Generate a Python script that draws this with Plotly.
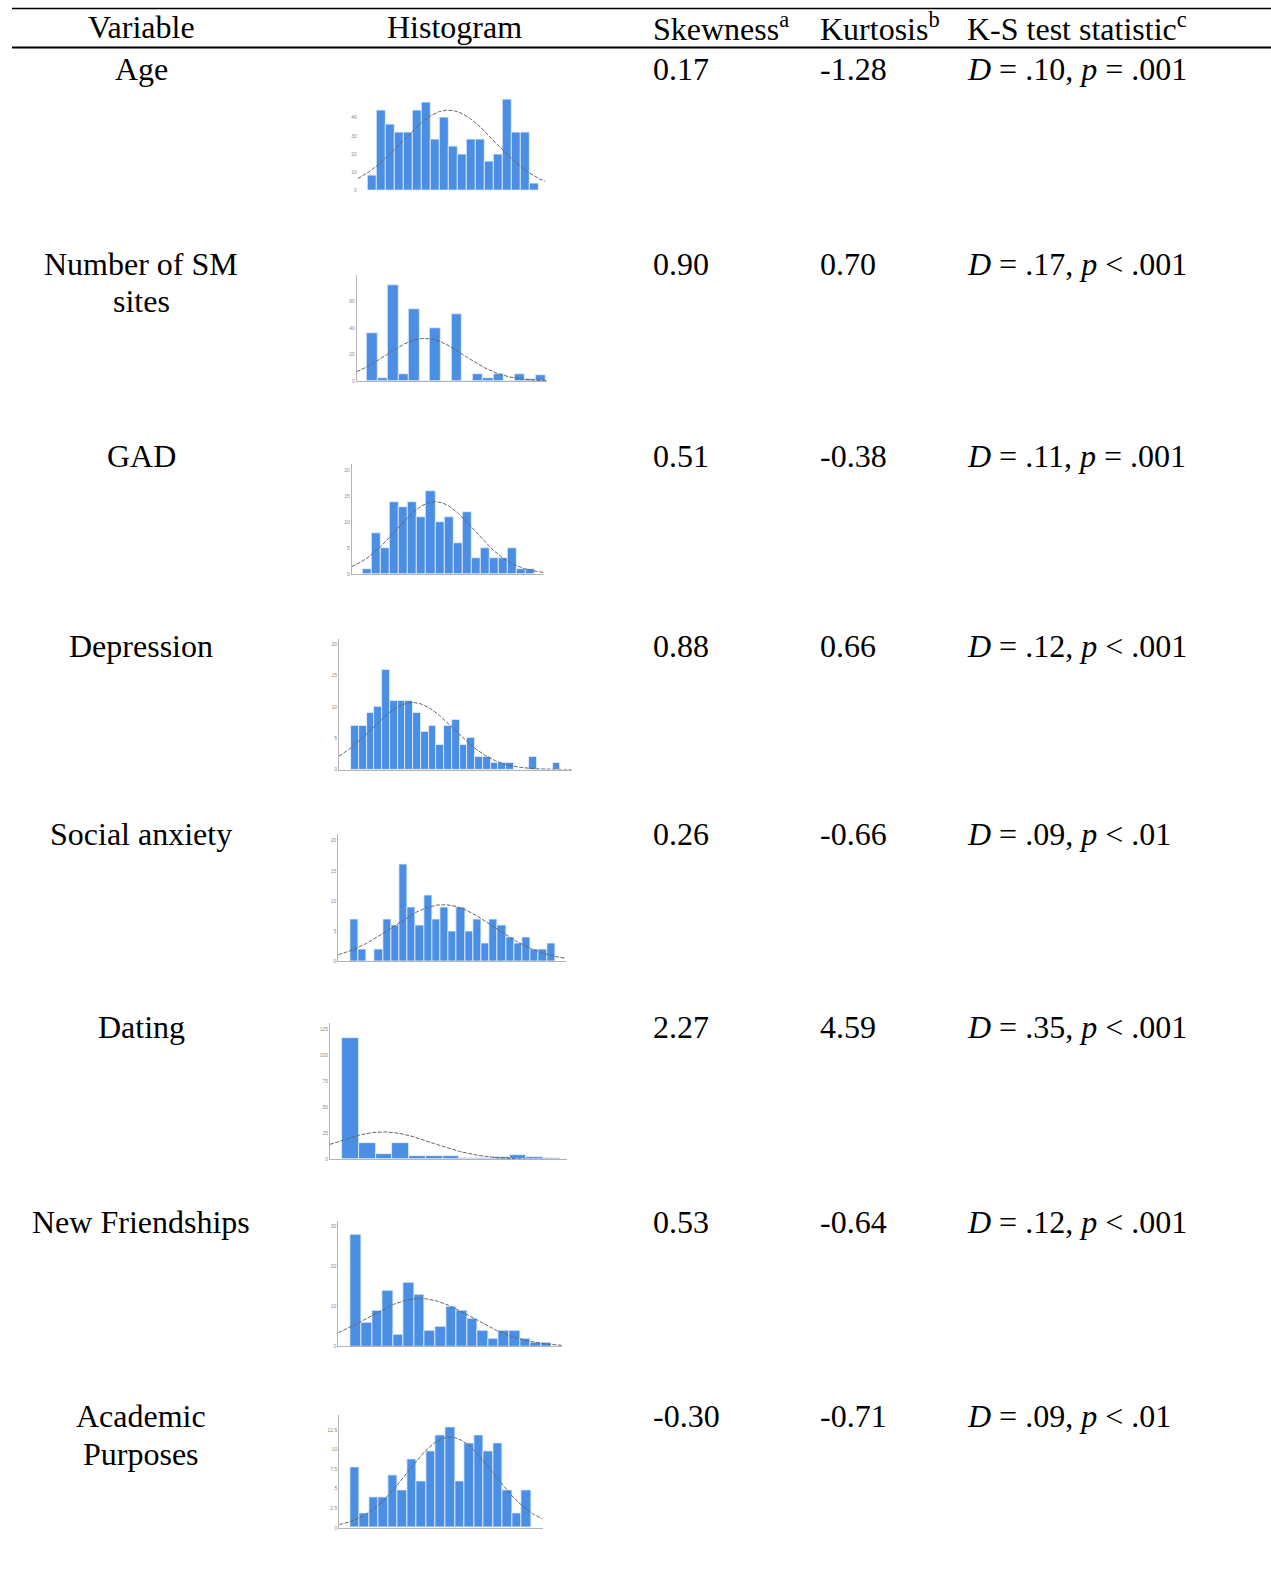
import numpy as np
import plotly.graph_objects as go

W, H = 1271, 1583
FONT = "Liberation Serif"

# ---- table text ----
variables = ["Age", "Number of SM<br>sites", "GAD", "Depression", "Social anxiety",
             "Dating", "New Friendships", "Academic<br>Purposes"]
skewness = ["0.17", "0.90", "0.51", "0.88", "0.26", "2.27", "0.53", "-0.30"]
kurtosis = ["-1.28", "0.70", "-0.38", "0.66", "-0.66", "4.59", "-0.64", "-0.71"]
ks_D = [".10", ".17", ".11", ".12", ".09", ".35", ".12", ".09"]
ks_p = ["= .001", "< .001", "= .001", "< .001", "< .01", "< .001", "< .001", "< .01"]

# ---- histogram bin counts ----
age_counts = [8, 44, 36, 32, 32, 44, 48, 28, 40, 24, 20, 28, 28, 16, 20, 52, 32, 32, 4]
sm_counts = [36, 2, 72, 5, 54, 0, 40, 0, 50, 0, 5, 2, 5, 0, 5, 1, 4]
gad_counts = [1, 8, 5, 14, 13, 14, 11, 16, 10, 11, 6, 12, 3, 5, 3, 3, 5, 1, 1]
dep_counts = [7, 7, 9, 10, 16, 11, 11, 11, 9, 6, 7, 4, 7, 8, 4, 5, 2, 2, 1, 1, 1, 0, 0, 2, 0, 0, 1]
soc_counts = [7, 2, 0, 2, 7, 6, 16, 9, 6, 11, 7, 9, 5, 9, 5, 7, 3, 7, 6, 4, 3, 4, 2, 2, 3]
dating_counts = [117, 16, 5, 16, 3.5, 3.5, 3.5, 1, 1, 2, 4, 2, 1]
nf_counts = [28, 6, 9, 14, 3, 16, 13, 4, 5, 10, 9, 7, 4, 2, 4, 4, 2, 1, 1]
acad_counts = [7.75, 1.8, 3.85, 3.85, 6.7, 4.85, 8.75, 5.9, 9.8, 11.85, 12.8, 5.9, 10.8,
               11.85, 9.8, 10.8, 4.85, 1.8, 4.85]

all_counts = [age_counts, sm_counts, gad_counts, dep_counts, soc_counts,
              dating_counts, nf_counts, acad_counts]

# ---- fitted normal curves (bin-index units) ----
curve_mean = [8.47, 5.0, 7.48, 7.45, 10.88, 1.95, 6.06, 9.99]
curve_sd = [5.15, 3.7, 4.3, 5.3, 6.2, 2.9, 4.9, 4.5]
curve_peak = [44, 32, 14, 10.7, 9.4, 26.6, 12, 11.6]

# ---- y-axis tick values ----
y_ticks = [[0, 10, 20, 30, 40, 50], [0, 20, 40, 60, 80], [0, 5, 10, 15, 20],
           [0, 5, 10, 15, 20], [0, 5, 10, 15, 20], [0, 25, 50, 75, 100, 125],
           [0, 10, 20, 30], [0, 2.5, 5, 7.5, 10, 12.5]]

# panel geometry in page pixels: bin left edge, bin width, baseline,
# pixels per count, plot left/right, axis top
geom = [
    dict(bl=367.3, bw=9.03, base=191.0, cpx=1.833, x0=357.7, x1=545.0, top=99.7, axis=False),
    dict(bl=367.0, bw=10.53, base=381.7, cpx=1.333, x0=356.7, x1=547.0, top=275.7, axis=True),
    dict(bl=362.7, bw=9.07, base=575.0, cpx=5.17, x0=351.7, x1=543.0, top=465.0, axis=True),
    dict(bl=351.0, bw=7.75, base=771.0, cpx=6.27, x0=339.0, x1=571.7, top=640.0, axis=True),
    dict(bl=350.0, bw=8.2, base=963.3, cpx=6.05, x0=338.3, x1=566.0, top=836.0, axis=True),
    dict(bl=342.3, bw=16.73, base=1161.7, cpx=1.04, x0=330.0, x1=566.7, top=1025.0, axis=True),
    dict(bl=350.7, bw=10.57, base=1349.0, cpx=4.0, x0=338.3, x1=561.7, top=1223.0, axis=True),
    dict(bl=350.0, bw=9.53, base=1530.7, cpx=7.83, x0=339.3, x1=542.7, top=1418.0, axis=True),
]

fig = go.Figure()
layout_axes = {}

for k, (counts, g) in enumerate(zip(all_counts, geom)):
    n = k + 1
    xa = "x" if n == 1 else f"x{n}"
    ya = "y" if n == 1 else f"y{n}"
    idx = np.arange(len(counts))
    xr = [(g["x0"] - g["bl"]) / g["bw"] - 0.5, (g["x1"] - g["bl"]) / g["bw"] - 0.5]
    yr = [0, (g["base"] - g["top"]) / g["cpx"]]

    fig.add_trace(go.Bar(
        x=idx, y=counts, width=1.0, xaxis=xa, yaxis=ya,
        marker=dict(color="#4b8fe4", line=dict(color="#e8f0fb", width=0.8)),
        showlegend=False, hoverinfo="skip"))

    xs = np.linspace(xr[0], xr[1], 200)
    ys = curve_peak[k] * np.exp(-0.5 * ((xs - curve_mean[k]) / curve_sd[k]) ** 2)
    fig.add_trace(go.Scatter(
        x=xs, y=ys, mode="lines", xaxis=xa, yaxis=ya,
        line=dict(color="#656565", width=1, dash="4px,1.5px"),
        showlegend=False, hoverinfo="skip"))

    xkey = "xaxis" if n == 1 else f"xaxis{n}"
    ykey = "yaxis" if n == 1 else f"yaxis{n}"
    layout_axes[xkey] = dict(
        domain=[g["x0"] / W, g["x1"] / W], range=xr, anchor=ya,
        showgrid=False, zeroline=False, showticklabels=False, ticks="",
        showline=g["axis"], linecolor="#b4b4b4", linewidth=1)
    layout_axes[ykey] = dict(
        domain=[1 - g["base"] / H, 1 - g["top"] / H], range=yr, anchor=xa,
        showgrid=False, zeroline=False, tickvals=y_ticks[k],
        tickfont=dict(size=5, color="#8a8a8a", family="Arial"),
        showline=g["axis"], linecolor="#b4b4b4", linewidth=1)

fig.update_layout(**layout_axes)


def py(p):
    return 1 - p / H


annotations = []


def text(x, y, s, anchor="left"):
    annotations.append(dict(
        x=x / W, y=py(y), xref="paper", yref="paper", text=s, showarrow=False,
        xanchor=anchor, yanchor="middle",
        font=dict(family=FONT, size=32, color="black")))


COL_VAR, COL_HIST, COL_SKEW, COL_KURT, COL_KS = 141.3, 454.3, 651, 817.5, 965
LINE_GAP = 37.5

# header
HEAD_Y = 27
text(COL_VAR, HEAD_Y, "Variable", "center")
text(COL_HIST, HEAD_Y, "Histogram", "center")
text(COL_SKEW, HEAD_Y, "Skewness<sup>a</sup>")
text(COL_KURT, HEAD_Y, "Kurtosis<sup>b</sup>")
text(COL_KS, HEAD_Y, "K-S test statistic<sup>c</sup>")

row_y = [69.5, 264.5, 457, 647, 836, 1028.5, 1224, 1419]
for i in range(len(variables)):
    for j, line in enumerate(variables[i].split("<br>")):
        text(COL_VAR, row_y[i] + j * LINE_GAP, line, "center")
    text(COL_SKEW, row_y[i], skewness[i])
    text(COL_KURT, row_y[i], kurtosis[i])
    text(COL_KS, row_y[i], f"<i>D</i> = {ks_D[i]}, <i>p</i> {ks_p[i]}")

shapes = [
    dict(type="line", xref="paper", yref="paper", x0=12 / W, x1=1.0,
         y0=py(8.5), y1=py(8.5), line=dict(color="black", width=1.5)),
    dict(type="line", xref="paper", yref="paper", x0=12 / W, x1=1.0,
         y0=py(47.5), y1=py(47.5), line=dict(color="black", width=2)),
]

fig.update_layout(
    width=W, height=H, margin=dict(l=0, r=0, t=0, b=0),
    paper_bgcolor="white", plot_bgcolor="rgba(0,0,0,0)",
    bargap=0, annotations=annotations, shapes=shapes, showlegend=False)

fig.write_html("out.html", config={"displayModeBar": False})
